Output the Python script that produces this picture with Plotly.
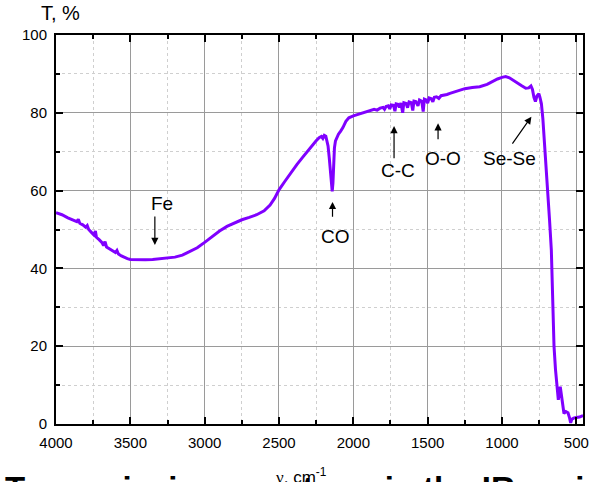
import plotly.graph_objects as go

# IR transmission spectrum: wavenumber (cm^-1) and transmittance (%)
wavenumber = [
    4000, 3960, 3920, 3880, 3860, 3850, 3840, 3820, 3800, 3790, 3780, 3760, 3745, 3735, 3728,
    3710, 3690, 3680, 3670, 3660, 3640, 3620, 3600, 3590, 3580, 3560, 3540, 3520, 3500,
    3450, 3400, 3350, 3300, 3250, 3200, 3150, 3100, 3050, 3000, 2950, 2900, 2850, 2800,
    2750, 2700, 2650, 2600, 2560, 2530, 2500,
    2460, 2420, 2380, 2340, 2300, 2270, 2250, 2230, 2215, 2205, 2195, 2185, 2178, 2170,
    2162, 2155, 2148, 2142, 2137, 2132, 2127, 2120, 2110, 2100, 2085, 2070, 2050, 2030,
    2000, 1950, 1900,
    1880, 1860, 1840, 1820, 1800, 1790, 1780, 1765, 1755, 1745, 1730, 1720, 1712, 1700,
    1690, 1680, 1668, 1660, 1645, 1635, 1625, 1610, 1600, 1592, 1580, 1565, 1555, 1540,
    1530, 1522, 1510, 1500, 1490, 1475, 1465, 1455, 1440, 1425, 1410, 1390, 1370, 1350,
    1300, 1250, 1200, 1150, 1100, 1060, 1030, 1000, 975, 950, 920, 900, 870, 840, 820,
    805, 795, 785, 775, 765, 752, 745, 735, 725, 713, 700, 690, 680, 668, 660, 650, 640,
    630, 621, 614, 608, 604, 599, 590, 583, 570, 556, 545, 538, 530, 518, 500, 478, 460, 455,
]
transmittance = [
    54.3, 53.8, 53.0, 52.3, 52.0, 52.6, 51.6, 51.2, 50.6, 51.0, 50.0, 49.2, 48.6, 49.6, 48.0,
    47.4, 46.6, 45.9, 46.9, 45.5, 45.0, 44.6, 44.1, 44.6, 43.7, 43.2, 42.8, 42.5, 42.3,
    42.2, 42.2, 42.3, 42.5, 42.7, 42.9, 43.4, 44.3, 45.3, 46.7, 48.2, 49.6, 50.8, 51.7,
    52.5, 53.1, 53.8, 54.8, 56.3, 58.0, 60.2,
    62.4, 64.6, 66.7, 68.6, 70.6, 72.0, 72.8, 73.6, 73.9, 73.4, 74.2, 74.0, 73.0, 71.5,
    68.5, 65.0, 61.5, 59.8, 62.0, 67.0, 71.0, 72.8, 73.8, 74.5, 75.3, 76.2, 77.8, 78.7,
    79.2, 79.8, 80.3,
    80.5, 80.9, 80.7, 81.2, 81.4, 80.9, 81.6, 81.8, 81.0, 82.0, 81.9, 80.4, 82.3, 82.2,
    81.4, 82.5, 80.0, 82.6, 82.4, 81.3, 82.8, 82.6, 80.6, 83.0, 82.9, 81.8, 83.3, 83.0,
    80.3, 83.5, 83.3, 82.5, 83.8, 83.6, 82.8, 84.0, 84.1, 83.7, 84.4, 84.5, 84.7, 85.0,
    85.5, 86.2, 86.5, 86.7, 87.3, 88.2, 88.7, 89.1, 89.3, 89.0, 88.2, 87.6, 87.0, 86.3, 86.4,
    86.9, 86.0, 84.0, 82.9, 84.3, 84.9, 84.0, 82.4, 78.5, 72.1, 64.0, 58.0, 52.4, 44.7, 33.0, 20.0, 14.0,
    8.7, 6.2, 8.0, 9.6, 8.5, 7.0, 3.5, 2.7, 3.2, 2.9, 1.5, 0.3, 1.2, 1.5, 1.7, 1.8, 2.1, 2.2,
]

# Band labels with their arrows (text position, arrow tip, arrow tail)
band_labels = ["Fe", "CO", "C-C", "O-O", "Se-Se"]
label_x = [3290, 2120, 1700, 1400, 950]
label_y = [56.7, 48.3, 65.1, 68.3, 68.3]
tip_x = [3335, 2140, 1726, 1430, 802]
tip_y = [46.0, 57.1, 76.6, 77.3, 79.0]
tail_x = [3335, 2140, 1726, 1430, 937]
tail_y = [53.7, 52.9, 67.9, 72.8, 71.7]

x_ticks = [4000, 3500, 3000, 2500, 2000, 1500, 1000, 500]
y_ticks = [0, 20, 40, 60, 80, 100]

FONT = "Arial, Liberation Sans, sans-serif"

fig = go.Figure()
fig.add_trace(go.Scatter(
    x=wavenumber, y=transmittance, mode="lines",
    line=dict(color="#8000ff", width=3),
    hoverinfo="skip", showlegend=False,
))

annotations = []
for t, lx, ly in zip(band_labels, label_x, label_y):
    annotations.append(dict(
        x=lx, y=ly, xref="x", yref="y", text=t, showarrow=False,
        font=dict(family=FONT, size=19, color="black"),
        xanchor="center", yanchor="middle",
    ))
for hx, hy, tx, ty in zip(tip_x, tip_y, tail_x, tail_y):
    annotations.append(dict(
        x=hx, y=hy, xref="x", yref="y", ax=tx, ay=ty, axref="x", ayref="y",
        text="", showarrow=True, arrowhead=2, arrowsize=1.2, arrowwidth=1.2,
        arrowcolor="black", standoff=0, startstandoff=0,
    ))

# vertical-axis caption placed above the plot
annotations.append(dict(
    x=0.008, y=1.056, xref="paper", yref="paper", text="T, %", showarrow=False,
    font=dict(family=FONT, size=20, color="black"), xanchor="center", yanchor="middle",
))
# horizontal-axis caption
annotations.append(dict(
    x=0.466, y=-0.133, xref="paper", yref="paper",
    text="<span style='font-family:Liberation Serif, Times New Roman, serif'>ν</span>, cm<sup>-1</sup>",
    showarrow=False, font=dict(family=FONT, size=17, color="black"),
    xanchor="center", yanchor="middle",
))
# figure caption along the bottom edge
annotations.append(dict(
    x=-0.1, y=-0.165, xref="paper", yref="paper",
    text="<b>Transmission spectrum in the IR region</b>", showarrow=False,
    font=dict(family=FONT, size=33, color="black"), xanchor="left", yanchor="middle",
))

axis_common = dict(
    showline=True, linecolor="black", linewidth=2, mirror="ticks",
    ticks="inside", ticklen=7, tickwidth=2, tickcolor="black",
    showgrid=True, gridcolor="#9a9a9a", gridwidth=1, zeroline=False,
    tickfont=dict(family=FONT, size=15, color="black"),
)

fig.update_xaxes(
    range=[4000, 455], tickvals=x_ticks, ticklabelstandoff=4,
    minor=dict(dtick=250, tick0=0, ticks="inside", ticklen=4, tickwidth=2, tickcolor="black",
               showgrid=True, gridcolor="#cfcfcf", griddash="dot", gridwidth=1),
    **axis_common,
)
fig.update_yaxes(
    range=[0, 100], tickvals=y_ticks, ticklabelstandoff=4,
    minor=dict(dtick=10, tick0=0, ticks="inside", ticklen=4, tickwidth=2, tickcolor="black",
               showgrid=True, gridcolor="#cfcfcf", griddash="dot", gridwidth=1),
    **axis_common,
)

fig.update_layout(
    width=596, height=482,
    margin=dict(l=56, r=13, t=35, b=58, autoexpand=False),
    paper_bgcolor="white", plot_bgcolor="white",
    annotations=annotations,
    showlegend=False,
)

fig.write_html("out.html")
